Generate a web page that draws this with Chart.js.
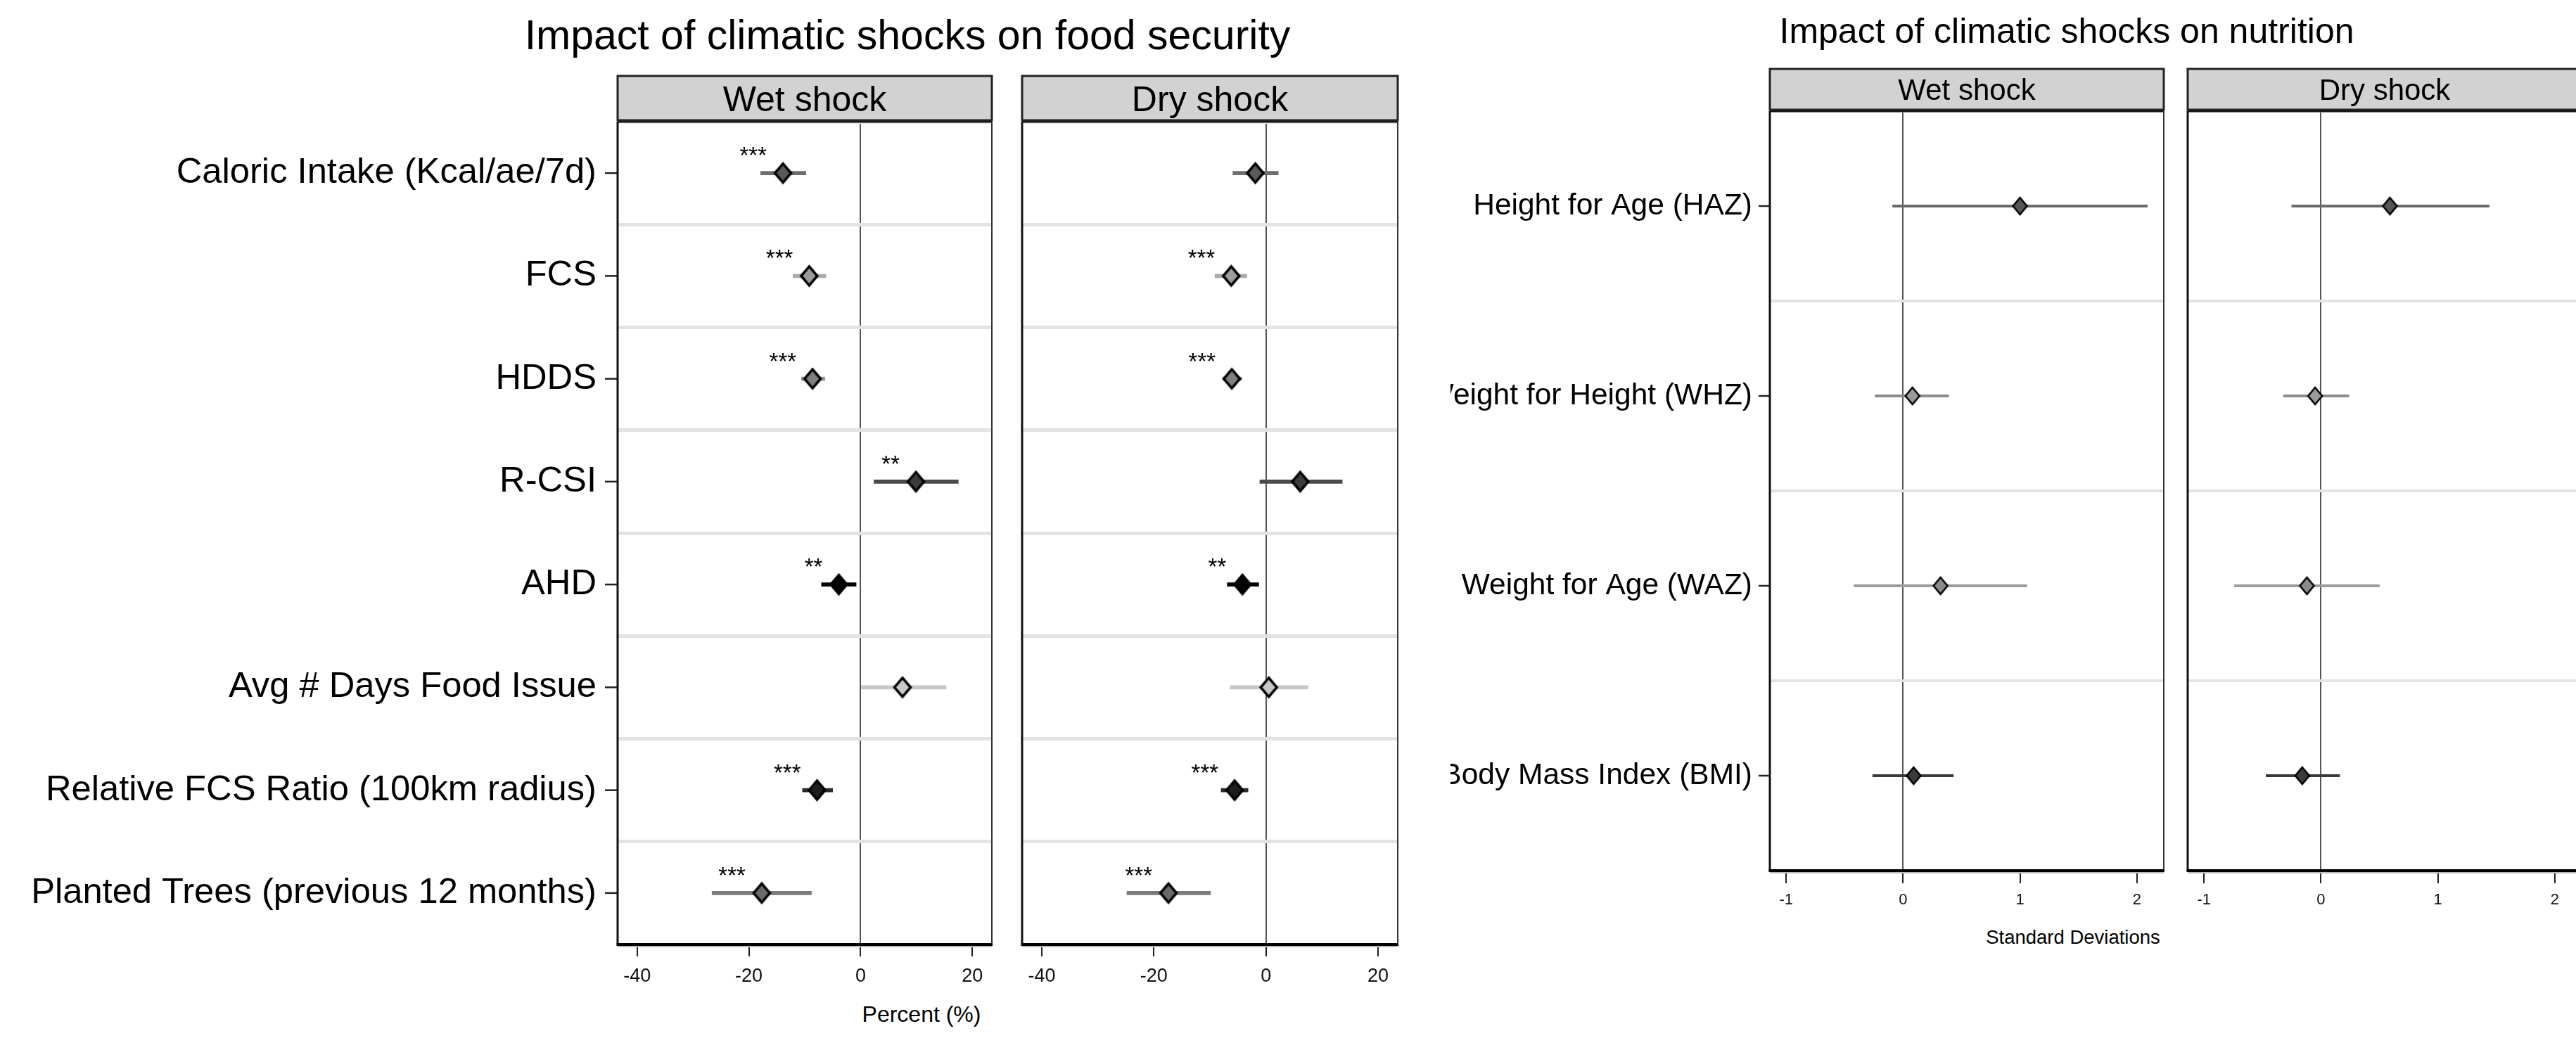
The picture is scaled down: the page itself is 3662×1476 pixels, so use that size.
<!DOCTYPE html>
<html>
<head>
<meta charset="utf-8">
<script src="https://cdn.jsdelivr.net/npm/chart.js@4.4.0/dist/chart.umd.min.js"></script>
<style>
html, body { margin: 0; padding: 0; background: #fff; }
#page { position: relative; width: 3662px; height: 1476px; overflow: hidden; background: #fff; font-family: "Liberation Sans", Arial, sans-serif; }
.box { position: absolute; top: 0; }
.txt { position: absolute; white-space: nowrap; color: #000; line-height: 1; transform: translateX(-50%); }
</style>
</head>
<body>
<div id="page">
  <div class="txt" style="left:1290px; top:21px; font-size:59px;">Impact of climatic shocks on food security</div>
  <div class="txt" style="left:2938px; top:19px; font-size:50px;">Impact of climatic shocks on nutrition</div>
  <div class="txt" style="left:1310px; top:1426px; font-size:32px;">Percent (%)</div>
  <div class="txt" style="left:2947px; top:1319px; font-size:27.5px;">Standard Deviations</div>

  <div class="box" style="left:0px; width:1432px; height:1476px;"><canvas id="fsWet"></canvas></div>
  <div class="box" style="left:1432px; width:628px; height:1476px;"><canvas id="fsDry"></canvas></div>
  <div class="box" style="left:2062px; width:1028px; height:1476px;"><canvas id="nuWet"></canvas></div>
  <div class="box" style="left:3090px; width:600px; height:1476px;"><canvas id="nuDry"></canvas></div>
</div>

<script>
Chart.defaults.font.family = '"Liberation Sans", Arial, sans-serif';
Chart.defaults.color = '#000';

// ---- food security (percent) ----
const fsLabels = ['Caloric Intake (Kcal/ae/7d)', 'FCS', 'HDDS', 'R-CSI', 'AHD',
                  'Avg # Days Food Issue', 'Relative FCS Ratio (100km radius)', 'Planted Trees (previous 12 months)'];
const fsWetCoef = [-13.9, -9.2, -8.6, 9.9, -3.9, 7.5, -7.8, -17.7];
const fsWetLo   = [-17.9, -12.1, -10.6, 2.4, -7.0, 0.0, -10.4, -26.6];
const fsWetHi   = [-9.8, -6.2, -6.4, 17.5, -0.8, 15.3, -5.0, -8.8];
const fsWetStars = ['***', '***', '***', '**', '**', '', '***', '***'];
const fsDryCoef = [-1.9, -6.2, -6.1, 6.1, -4.2, 0.5, -5.6, -17.4];
const fsDryLo   = [-5.9, -9.1, -7.7, -1.1, -6.9, -6.4, -8.0, -24.8];
const fsDryHi   = [2.2, -3.4, -4.3, 13.6, -1.3, 7.5, -3.2, -9.9];
const fsDryStars = ['', '***', '***', '', '**', '', '***', '***'];
const fsTicks = [-40, -20, 0, 20];

// ---- nutrition (standard deviations) ----
const nuLabels = ['Height for Age (HAZ)', 'Weight for Height (WHZ)', 'Weight for Age (WAZ)', 'Body Mass Index (BMI)'];
const nuWetCoef = [1.00, 0.08, 0.32, 0.09];
const nuWetLo   = [-0.09, -0.24, -0.42, -0.26];
const nuWetHi   = [2.09, 0.39, 1.06, 0.43];
const nuDryCoef = [0.59, -0.05, -0.12, -0.16];
const nuDryLo   = [-0.25, -0.32, -0.74, -0.47];
const nuDryHi   = [1.44, 0.24, 0.50, 0.16];
const nuTicks = [-1, 0, 1, 2];

// grey shades per row (marker fill / CI line)
const fsFill = ['#5a5a5a', '#9c9c9c', '#808080', '#3c3c3c', '#000000', '#c8c8c8', '#1e1e1e', '#6a6a6a'];
const fsLine = ['#6e6e6e', '#ababab', '#959595', '#4a4a4a', '#000000', '#c8c8c8', '#2a2a2a', '#7a7a7a'];
const nuFill = ['#555555', '#9a9a9a', '#8a8a8a', '#3a3a3a'];
const nuLine = ['#6a6a6a', '#8c8c8c', '#9c9c9c', '#3a3a3a'];

function diamond(fill, w, h, lw) {
    let c = document.createElement('canvas');
    c.width = w + lw * 4;
    c.height = h + lw * 4;
    let g = c.getContext('2d');
    let cx = c.width / 2, cy = c.height / 2;
    g.beginPath();
    g.moveTo(cx, cy - h / 2);
    g.lineTo(cx + w / 2, cy);
    g.lineTo(cx, cy + h / 2);
    g.lineTo(cx - w / 2, cy);
    g.closePath();
    g.fillStyle = fill;
    g.fill();
    g.lineWidth = lw;
    g.strokeStyle = '#000';
    g.stroke();
    return c;
}

// strip header, frame, y tick marks and significance stars
const panelDecor = {
    id: 'panelDecor',
    afterDraw(chart, args, o) {
        let ctx = chart.ctx, a = chart.chartArea;
        let xs = chart.scales.x, ys = chart.scales.y;
        ctx.save();

        // stars
        if (o.stars) {
            ctx.fillStyle = '#000';
            ctx.font = o.starFont + 'px "Liberation Sans", Arial, sans-serif';
            ctx.textAlign = 'right';
            ctx.textBaseline = 'alphabetic';
            o.stars.forEach((s, i) => {
                if (!s) return;
                let px = xs.getPixelForValue(o.coef[i]);
                let py = ys.getPixelForValue(i);
                ctx.fillText(s, px - 23, py - 14);
            });
        }

        // y tick marks
        if (o.tickLen) {
            ctx.strokeStyle = '#222';
            ctx.lineWidth = 2.5;
            ys.ticks.forEach((t, i) => {
                let py = ys.getPixelForTick(i);
                ctx.beginPath();
                ctx.moveTo(a.left - o.tickLen, py);
                ctx.lineTo(a.left, py);
                ctx.stroke();
            });
        }

        // frame
        ctx.strokeStyle = '#111';
        ctx.lineWidth = 3;
        ctx.beginPath();
        ctx.moveTo(a.left, a.top); ctx.lineTo(a.left, a.bottom);
        ctx.moveTo(a.left, a.top); ctx.lineTo(a.right, a.top);
        ctx.stroke();
        ctx.strokeStyle = '#333';
        ctx.lineWidth = 2;
        ctx.beginPath();
        ctx.moveTo(a.right, a.top); ctx.lineTo(a.right, a.bottom);
        ctx.stroke();
        ctx.strokeStyle = '#bbb';
        ctx.lineWidth = 2;
        ctx.beginPath();
        ctx.moveTo(a.left, a.bottom + 3); ctx.lineTo(a.right, a.bottom + 3);
        ctx.stroke();
        ctx.strokeStyle = '#000';
        ctx.lineWidth = 4;
        ctx.beginPath();
        ctx.moveTo(a.left - 1.5, a.bottom); ctx.lineTo(a.right + 1, a.bottom);
        ctx.stroke();

        // header strip
        let top = a.top - o.headH;
        ctx.fillStyle = '#d2d2d2';
        ctx.fillRect(a.left, top, a.right - a.left, o.headH - 2);
        ctx.strokeStyle = '#222';
        ctx.lineWidth = 3;
        ctx.strokeRect(a.left, top, a.right - a.left, o.headH - 2);
        ctx.fillStyle = '#000';
        ctx.font = o.headFont + 'px "Liberation Sans", Arial, sans-serif';
        ctx.textAlign = 'center';
        ctx.textBaseline = 'alphabetic';
        ctx.fillText(o.head, (a.left + a.right) / 2, top + (o.headH - 2) / 2 + 0.36 * o.headFont);
        ctx.restore();
    }
};

function makePanel(id, p) {
    let cv = document.getElementById(id);
    cv.width = p.w;
    cv.height = 1476;
    let styles = p.coef.map((v, i) => diamond(p.fill[i], p.dw, p.dh, p.dlw));

    return new Chart(cv, {
        type: 'bar',
        data: {
            labels: p.labels,
            datasets: [
                {
                    type: 'line',
                    indexAxis: 'y',
                    data: p.coef,
                    showLine: false,
                    pointStyle: styles,
                    pointRadius: 12,
                    order: 0
                },
                {
                    type: 'bar',
                    indexAxis: 'y',
                    data: p.lo.map((v, i) => [v, p.hi[i]]),
                    backgroundColor: p.line,
                    borderWidth: 0,
                    barThickness: p.ciW,
                    order: 1
                }
            ]
        },
        options: {
            indexAxis: 'y',
            responsive: false,
            animation: false,
            events: [],
            layout: { padding: { top: p.top, right: p.padR, left: 0, bottom: 0 } },
            plugins: {
                legend: { display: false },
                tooltip: { enabled: false },
                panelDecor: {
                    head: p.head, headH: p.headH, headFont: p.headFont,
                    stars: p.stars, coef: p.coef, starFont: 33,
                    tickLen: p.showLabels ? p.tickLen : 0
                }
            },
            scales: {
                x: {
                    type: 'linear',
                    min: p.min,
                    max: p.max,
                    afterBuildTicks: (s) => { s.ticks = p.ticks.map(v => ({ value: v })); },
                    afterFit: (s) => { s.height = 1476 - p.bottom; },
                    border: { display: false },
                    grid: {
                        color: (c) => (c.tick && c.tick.value === 0) ? '#555' : 'rgba(0,0,0,0)',
                        lineWidth: 2,
                        drawTicks: true,
                        tickLength: p.xTickLen,
                        tickColor: '#222',
                        tickWidth: 2
                    },
                    ticks: {
                        font: { size: p.xFont },
                        color: '#111',
                        padding: p.xPad,
                        maxRotation: 0,
                        callback: (v) => v
                    }
                },
                y: {
                    type: 'category',
                    offset: true,
                    afterFit: (s) => { s.width = p.yW; },
                    border: { display: false },
                    grid: {
                        offset: true,
                        color: '#e3e3e3',
                        lineWidth: p.sepW,
                        drawTicks: false
                    },
                    ticks: {
                        display: p.showLabels,
                        font: { size: p.yFont },
                        color: '#000',
                        padding: p.yPad,
                        autoSkip: false
                    }
                }
            }
        },
        plugins: [panelDecor]
    });
}

let fsCommon = {
    labels: fsLabels, fill: fsFill, line: fsLine, ticks: fsTicks,
    min: -43.5, max: 23.5, top: 173, bottom: 1343,
    dw: 23, dh: 27, dlw: 3.5, ciW: 5, sepW: 5,
    headH: 65, headFont: 50, xFont: 27, xPad: 12, xTickLen: 17,
    yFont: 50.7, yPad: 30, tickLen: 18
};
let nuCommon = {
    labels: nuLabels, fill: nuFill, line: nuLine, ticks: nuTicks,
    min: -1.14, max: 2.23, top: 158, bottom: 1238,
    dw: 20, dh: 24, dlw: 2.5, ciW: 3.5, sepW: 4,
    headH: 60, headFont: 42, xFont: 22, xPad: 11, xTickLen: 18,
    yFont: 42.5, yPad: 25, tickLen: 16
};

makePanel('fsWet', Object.assign({}, fsCommon, {
    w: 1432, yW: 878, padR: 22, showLabels: true, head: 'Wet shock',
    coef: fsWetCoef, lo: fsWetLo, hi: fsWetHi, stars: fsWetStars
}));
makePanel('fsDry', Object.assign({}, fsCommon, {
    w: 628, yW: 21, padR: 73, showLabels: false, head: 'Dry shock',
    coef: fsDryCoef, lo: fsDryLo, hi: fsDryHi, stars: fsDryStars
}));
makePanel('nuWet', Object.assign({}, nuCommon, {
    w: 1028, yW: 454, padR: 14, showLabels: true, head: 'Wet shock',
    coef: nuWetCoef, lo: nuWetLo, hi: nuWetHi, stars: null
}));
makePanel('nuDry', Object.assign({}, nuCommon, {
    w: 600, yW: 20, padR: 20, showLabels: false, head: 'Dry shock',
    coef: nuDryCoef, lo: nuDryLo, hi: nuDryHi, stars: null
}));
</script>
</body>
</html>
